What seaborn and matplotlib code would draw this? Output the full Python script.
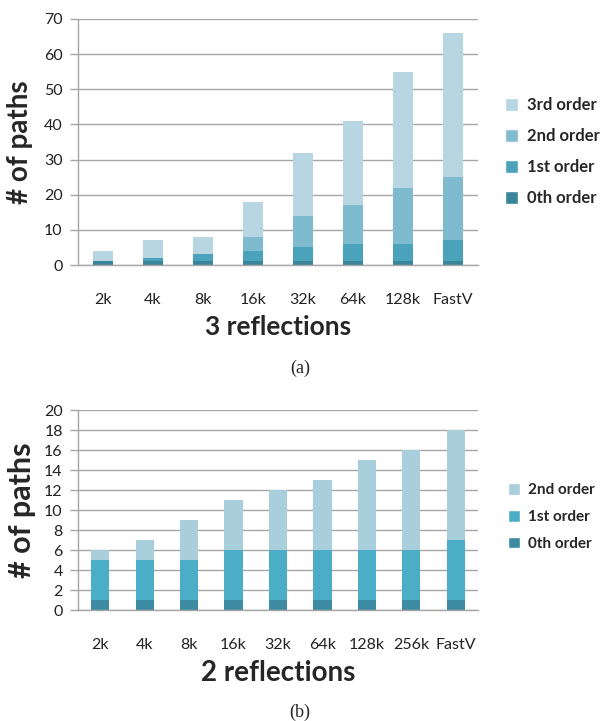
import matplotlib
matplotlib.use("Agg")
import matplotlib.pyplot as plt
import seaborn as sns
import numpy as np
import pandas as pd
from matplotlib.patches import Patch

sns.set_theme(style="white")
plt.rcParams['font.family'] = ['Lato', 'DejaVu Sans']

# ---- Data (a): 3 reflections ----
cats_a = ["2k", "4k", "8k", "16k", "32k", "64k", "128k", "FastV"]
a_0th = [1, 1, 1, 1, 1, 1, 1, 1]
a_1st = [0, 1, 2, 3, 4, 5, 5, 6]
a_2nd = [0, 0, 0, 4, 9, 11, 16, 18]
a_3rd = [3, 5, 5, 10, 18, 24, 33, 41]
labels_a = ["0th order", "1st order", "2nd order", "3rd order"]
colors_a = ["#3a8599", "#4aa3bb", "#7fbbcf", "#b7d6e1"]

# ---- Data (b): 2 reflections ----
cats_b = ["2k", "4k", "8k", "16k", "32k", "64k", "128k", "256k", "FastV"]
b_0th = [1, 1, 1, 1, 1, 1, 1, 1, 1]
b_1st = [4, 4, 4, 5, 5, 5, 5, 5, 6]
b_2nd = [1, 2, 4, 5, 6, 7, 9, 10, 11]
labels_b = ["0th order", "1st order", "2nd order"]
colors_b = ["#3d8ca3", "#4badc6", "#a9cfdd"]

W, H = 600, 721
fig = plt.figure(figsize=(W / 100, H / 100), dpi=100)

def px_axes(left, top, right, bottom):
    return fig.add_axes([left / W, 1 - bottom / H, (right - left) / W, (bottom - top) / H])

GRID = "#a6a6a6"

def stacked(ax, cats, layers, labels, colors, ymax, ystep, width):
    cum = np.cumsum(np.array(layers), axis=0)
    # draw from top (total) down so lower segments overlay
    for i in range(len(layers) - 1, -1, -1):
        df = pd.DataFrame({"cat": cats, "val": cum[i]})
        sns.barplot(data=df, x="cat", y="val", color=colors[i], width=width,
                    saturation=1, ax=ax, linewidth=0, order=cats)
    n = len(cats)
    ax.set_xlim(-0.5, n - 0.5)
    ax.set_ylim(0, ymax)
    ax.set_yticks(np.arange(0, ymax + 0.1, ystep))
    ax.yaxis.grid(True, color=GRID, linewidth=1)
    ax.set_axisbelow(True)
    for s in ["top", "right"]:
        ax.spines[s].set_visible(False)
    ax.spines["left"].set_color(GRID)
    ax.spines["bottom"].set_color(GRID)
    ax.spines["left"].set_linewidth(1)
    ax.spines["bottom"].set_linewidth(1)
    ax.set_xticks(range(n))
    ax.set_xticklabels(cats)
    ax.set_xticks(np.arange(-0.5, n, 1.0), minor=True)
    ax.tick_params(axis="x", which="major", length=0, pad=20, labelsize=11.5, labelcolor="#222222")
    ax.tick_params(axis="x", which="minor", length=8, width=1, color=GRID, direction="out")
    ax.tick_params(axis="y", which="major", length=6, width=1, color=GRID, direction="out",
                   pad=5, labelsize=11.5, labelcolor="#222222", left=True)
    ax.set_xlabel("")
    ax.set_ylabel("")

# Panel (a)
ax1 = px_axes(78, 19, 478, 265)
stacked(ax1, cats_a, [a_0th, a_1st, a_2nd, a_3rd], labels_a, colors_a, 70, 10, 0.4)
ax1.set_ylabel("# of paths", fontsize=20, fontweight="bold", labelpad=8)
ax1.set_xlabel("3 reflections", fontsize=19, fontweight="bold", labelpad=6)
handles_a = [Patch(facecolor=c, label=l) for c, l in zip(colors_a, labels_a)][::-1]
ax1.legend(handles=handles_a, loc="center left", bbox_to_anchor=(1.03, 0.46), frameon=False,
           prop={"weight": "bold", "size": 12}, handlelength=0.8, handleheight=0.8,
           handletextpad=0.5, labelspacing=0.9)
fig.text(300 / W, 1 - 368 / H, "(a)", ha="center", va="center", fontsize=13,
         family="Liberation Serif")

# Panel (b)
ax2 = px_axes(78, 410, 478, 610)
stacked(ax2, cats_b, [b_0th, b_1st, b_2nd], labels_b, colors_b, 20, 2, 0.41)
ax2.set_ylabel("# of paths", fontsize=22, fontweight="bold", labelpad=6)
ax2.set_xlabel("2 reflections", fontsize=20, fontweight="bold", labelpad=6)
handles_b = [Patch(facecolor=c, label=l) for c, l in zip(colors_b, labels_b)][::-1]
ax2.legend(handles=handles_b, loc="center left", bbox_to_anchor=(1.04, 0.465), frameon=False,
           prop={"weight": "bold", "size": 11}, handlelength=0.8, handleheight=0.8,
           handletextpad=0.5, labelspacing=0.83)
fig.text(300 / W, 1 - 712 / H, "(b)", ha="center", va="center", fontsize=13,
         family="Liberation Serif")

fig.savefig("out.png", dpi=100)
